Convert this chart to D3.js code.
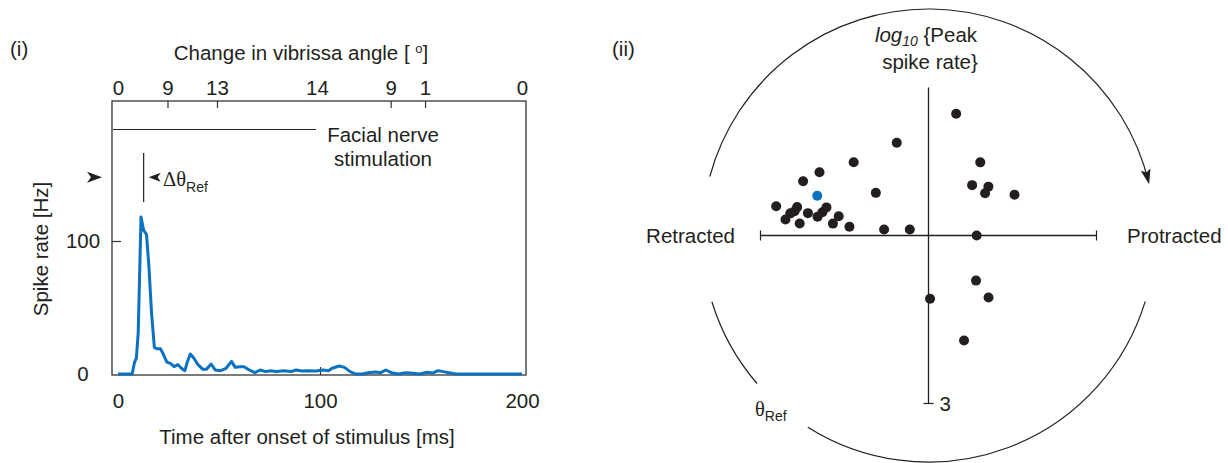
<!DOCTYPE html>
<html>
<head>
<meta charset="utf-8">
<script src="https://d3js.org/d3.v7.min.js"></script>
<style>
  body { margin: 0; background: #fff; }
  svg { display: block; font-family: "Liberation Sans", Arial, Helvetica, sans-serif; }
  text { fill: #231f20; }
</style>
</head>
<body>
<div id="chart"></div>
<script>
// (i) spike rate after onset of facial nerve stimulation
const timeMs = [0, 7, 8.2, 9.1, 10, 11.4, 12.7, 14.1, 15.3, 16.6, 18, 19.2, 21, 22.4, 24.2,
  25.9, 27.8, 29.6, 31.4, 33.1, 34.3, 35.8, 37.5, 39.6, 42, 43.8, 46.1, 48.2, 50.8, 53.5,
  56.2, 58, 60.3, 62.4, 65, 67.7, 70.4, 73.1, 75.7, 78.4, 82, 85.6, 88.2, 90.9, 94.5,
  98, 101.6, 104.2, 106, 109.5, 112.1, 114.9, 117.6, 121.1, 123.8, 127.4, 130, 132.6, 135.3,
  138.8, 142.4, 146, 149.5, 153, 155.7, 158.4, 161.1, 163.7, 167.3, 200];
const spikeRate = [0, 0, 9, 12, 31, 118, 108, 105, 81, 46, 20, 19, 19, 15, 9,
  8, 5.5, 7, 4.3, 2.5, 9, 15, 12, 7, 3.5, 3.5, 7.5, 3, 2.5, 4.3,
  9.5, 5, 5.5, 5.5, 3, 1, 3, 1.8, 2.5, 1.8, 2.5, 1.8, 3, 2.3, 2.5,
  2.3, 3, 2.5, 4.3, 6, 5, 1.8, 0, 0, 1, 1.5, 1, 3, 1,
  0, 1, 0.5, 0, 1.3, 0.7, 2.5, 1.8, 1, 0, 0];
const timeTicks = [0, 100, 200];
const rateTicks = [0, 100];
const angleTickTimes = [0, 24.5, 49, 98.5, 135, 152, 200];
const angleTickLabels = ['0', '9', '13', '14', '9', '1', '0'];
const stimulationMs = [0, 98];
const refRate = 148;
const deltaThetaMs = 12.7;

// (ii) polar plot: reference angle vs log10 peak spike rate
const thetaRef = [12.8, -18.9, 35.3, -45.6, -59.9, -66.6, 40.9, 50.8, 53.3, 64.6, -51, -70.3,
  -79.1, -77.8, -79.7, -80.9, -83.6, -84.7, -79.5, -80.4, -77.6, -74.6, -82.9, -77.9,
  -83.7, -82.3, -72.4, 90, 133.5, 135.9, 178.6, 161.3];
const logPeak = [2.23, 1.75, 1.60, 1.87, 2.25, 2.44, 1.19, 1.38, 1.26, 1.70, 1.21, 2.11,
  2.77, 2.40, 2.43, 2.50, 2.57, 2.31, 2.19, 2.01, 1.94, 1.89, 1.72, 1.64,
  1.42, 0.80, 0.35, 0.86, 1.17, 1.54, 1.13, 1.98];
const highlighted = 11;
const radialMax = 3;

const ink = '#231f20';
const blue = '#0b71c1';
const fontSize = 20.5;

const svg = d3.select('#chart').append('svg')
  .attr('width', 1228)
  .attr('height', 463);

// ---------- panel (i) ----------
const frame = { left: 112, right: 526, top: 101, bottom: 375 };
const x = d3.scaleLinear().domain([0, 200]).range([118, 522]);
const y = d3.scaleLinear().domain([0, 100]).range([374, 241]);

const left = svg.append('g').attr('class', 'panel-i');

left.append('rect')
  .attr('x', frame.left)
  .attr('y', frame.top)
  .attr('width', frame.right - frame.left)
  .attr('height', frame.bottom - frame.top)
  .attr('fill', 'none')
  .attr('stroke', '#333')
  .attr('stroke-width', 1.3);

function styleAxis(g) {
  g.select('.domain').remove();
  g.attr('font-size', fontSize).attr('font-family', null);
  g.selectAll('.tick line').attr('stroke', '#333').attr('stroke-width', 1.2);
  g.selectAll('.tick text').attr('fill', ink);
}

const bottomAxis = left.append('g')
  .attr('transform', `translate(0,${frame.bottom})`)
  .call(d3.axisBottom(x).tickValues(timeTicks).tickSizeInner(-8).tickSizeOuter(0).tickPadding(18))
  .call(styleAxis);
bottomAxis.selectAll('.tick line').filter(d => d !== 100).remove();

const leftAxis = left.append('g')
  .attr('transform', `translate(${frame.left},0)`)
  .call(d3.axisLeft(y).tickValues(rateTicks).tickSizeInner(-9).tickSizeOuter(0))
  .call(styleAxis);
leftAxis.selectAll('.tick line').filter(d => d === 0).remove();
leftAxis.selectAll('.tick text').attr('text-anchor', 'middle').attr('x', -29);

const topAxis = left.append('g')
  .attr('transform', `translate(0,${frame.top})`)
  .call(d3.axisTop(x).tickValues(angleTickTimes)
    .tickFormat((d, i) => angleTickLabels[i])
    .tickSizeInner(-7).tickSizeOuter(0).tickPadding(6))
  .call(styleAxis);
topAxis.selectAll('.tick line').filter((d, i) => i === 0 || i === 3 || i === 6).remove();

const line = d3.line()
  .x((d, i) => x(timeMs[i]))
  .y(d => y(d));

left.append('path')
  .datum(spikeRate)
  .attr('d', line)
  .attr('fill', 'none')
  .attr('stroke', blue)
  .attr('stroke-width', 3)
  .attr('stroke-linejoin', 'round');

// stimulation bar and note
left.append('line')
  .attr('x1', frame.left + 1)
  .attr('x2', x(stimulationMs[1]))
  .attr('y1', 129.5)
  .attr('y2', 129.5)
  .attr('stroke', ink)
  .attr('stroke-width', 1.2);

const note = left.append('text')
  .attr('text-anchor', 'middle')
  .attr('font-size', fontSize);
note.append('tspan').attr('x', 383).attr('y', 142).text('Facial nerve');
note.append('tspan').attr('x', 383).attr('y', 166).text('stimulation');

// reference level arrow
const arrowHead = 'M0,0 L-15,-5.5 L-11,0 L-15,5.5 Z';
left.append('path')
  .attr('d', arrowHead)
  .attr('transform', `translate(102,${y(refRate)})`)
  .attr('fill', ink);

// delta theta marker
left.append('line')
  .attr('x1', x(deltaThetaMs))
  .attr('x2', x(deltaThetaMs))
  .attr('y1', 153)
  .attr('y2', 202)
  .attr('stroke', ink)
  .attr('stroke-width', 1.2);
left.append('path')
  .attr('d', 'M0,0 L-12,-4.5 L-9,0 L-12,4.5 Z')
  .attr('transform', `translate(${x(deltaThetaMs) + 5},${y(refRate)}) rotate(180)`)
  .attr('fill', ink);
const dt = left.append('text')
  .attr('x', 163)
  .attr('y', 186)
  .attr('font-size', fontSize);
dt.append('tspan').attr('font-family', '"Liberation Serif", "Times New Roman", serif').text('\u0394\u03b8');
dt.append('tspan').attr('font-size', 14).attr('dy', 6).text('Ref');

// titles
left.append('text')
  .attr('x', 10)
  .attr('y', 56)
  .attr('font-size', fontSize)
  .text('(i)');

const topTitle = left.append('text')
  .attr('x', 301)
  .attr('y', 60)
  .attr('text-anchor', 'middle')
  .attr('font-size', fontSize);
topTitle.append('tspan').text('Change in vibrissa angle [ ');
topTitle.append('tspan').attr('font-size', 13).attr('dy', -7).text('o');
topTitle.append('tspan').attr('dy', 7).text(']');

left.append('text')
  .attr('x', 307)
  .attr('y', 444)
  .attr('text-anchor', 'middle')
  .attr('font-size', fontSize)
  .text('Time after onset of stimulus [ms]');

left.append('text')
  .attr('transform', 'translate(48,249) rotate(-90)')
  .attr('text-anchor', 'middle')
  .attr('font-size', fontSize)
  .text('Spike rate [Hz]');

// ---------- panel (ii) ----------
const cx = 928.5, cy = 235.5;
const rings = 226.5;
const r = d3.scaleLinear().domain([0, radialMax]).range([0, 168]);
const deg = Math.PI / 180;

svg.append('text')
  .attr('x', 612)
  .attr('y', 56)
  .attr('font-size', fontSize)
  .text('(ii)');

const right = svg.append('g')
  .attr('class', 'panel-ii')
  .attr('transform', `translate(${cx},${cy})`);

// outer circle pieces, angles clockwise from the top
function arcPath(a0, a1) {
  const p = d3.path();
  p.arc(0, 0, rings, (a0 - 90) * deg, (a1 - 90) * deg, false);
  return p.toString();
}
const arcs = [[-74.9, 76.4], [106.9, 212.2], [229.2, 253]];
right.selectAll('path.ring')
  .data(arcs)
  .enter().append('path')
  .attr('class', 'ring')
  .attr('d', d => arcPath(d[0], d[1]))
  .attr('fill', 'none')
  .attr('stroke', ink)
  .attr('stroke-width', 1.2);

const tip = d3.pointRadial(arcs[0][1] * deg, rings);
right.append('path')
  .attr('d', 'M2,0 L-13,-5 L-10,0 L-13,5 Z')
  .attr('transform', `translate(${tip[0]},${tip[1]}) rotate(${arcs[0][1]})`)
  .attr('fill', ink);

// axes
right.append('line')
  .attr('x1', -r(radialMax)).attr('x2', r(radialMax))
  .attr('y1', 0).attr('y2', 0)
  .attr('stroke', ink).attr('stroke-width', 1.3);
right.selectAll('line.endtick')
  .data([-1, 1])
  .enter().append('line')
  .attr('class', 'endtick')
  .attr('x1', d => d * r(radialMax)).attr('x2', d => d * r(radialMax))
  .attr('y1', -5).attr('y2', 5)
  .attr('stroke', ink).attr('stroke-width', 1.2);

right.append('line')
  .attr('x1', 0).attr('x2', 0)
  .attr('y1', -148).attr('y2', r(radialMax))
  .attr('stroke', ink).attr('stroke-width', 1.3);
right.append('line')
  .attr('x1', -5).attr('x2', 5)
  .attr('y1', r(radialMax)).attr('y2', r(radialMax))
  .attr('stroke', ink).attr('stroke-width', 1.2);
right.append('text')
  .attr('x', 11)
  .attr('y', r(radialMax))
  .attr('dy', '0.35em')
  .attr('font-size', fontSize)
  .text(radialMax);

// points
right.selectAll('circle.cell')
  .data(thetaRef)
  .enter().append('circle')
  .attr('class', 'cell')
  .attr('cx', (d, i) => d3.pointRadial(d * deg, r(logPeak[i]))[0])
  .attr('cy', (d, i) => d3.pointRadial(d * deg, r(logPeak[i]))[1])
  .attr('r', 5)
  .attr('fill', (d, i) => i === highlighted ? blue : ink);

// labels
right.append('text')
  .attr('x', -193.5)
  .attr('y', 0)
  .attr('dy', '0.35em')
  .attr('text-anchor', 'end')
  .attr('font-size', fontSize)
  .text('Retracted');
right.append('text')
  .attr('x', 198.5)
  .attr('y', 0)
  .attr('dy', '0.35em')
  .attr('font-size', fontSize)
  .text('Protracted');

const yTitle = right.append('text')
  .attr('x', -2.5)
  .attr('y', -193.5)
  .attr('text-anchor', 'middle')
  .attr('font-size', fontSize);
yTitle.append('tspan').attr('font-style', 'italic').text('log');
yTitle.append('tspan').attr('font-style', 'italic').attr('font-size', 14).attr('dy', 4).text('10');
yTitle.append('tspan').attr('dy', -4).text(' {Peak');
right.append('text')
  .attr('x', 1.5)
  .attr('y', -167)
  .attr('text-anchor', 'middle')
  .attr('font-size', fontSize)
  .text('spike rate}');

const thetaLabel = right.append('text')
  .attr('x', -173.5)
  .attr('y', 180.5)
  .attr('font-size', fontSize);
thetaLabel.append('tspan').attr('font-family', '"Liberation Serif", "Times New Roman", serif').text('\u03b8');
thetaLabel.append('tspan').attr('font-size', 14).attr('dy', 5).text('Ref');
</script>
</body>
</html>
